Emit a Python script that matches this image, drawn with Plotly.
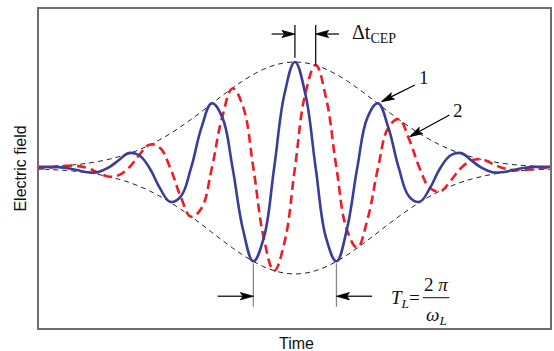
import math
import plotly.graph_objects as go

# Time axis in units of the optical period T_L (pulse centre at t = 0)
time = [-3.125, -3.0, -2.875, -2.75, -2.625, -2.5, -2.375, -2.25, -2.125,
        -2.0, -1.875, -1.75, -1.625, -1.5, -1.375, -1.25, -1.125,
        -1.0, -0.875, -0.75, -0.625, -0.5, -0.375, -0.25, -0.125,
        0.0, 0.125, 0.25, 0.375, 0.5, 0.625, 0.75, 0.875,
        1.0, 1.125, 1.25, 1.375, 1.5, 1.625, 1.75, 1.875,
        2.0, 2.125, 2.25, 2.375, 2.5, 2.625, 2.75, 2.875, 3.0, 3.125]

# Pulse 1: carrier maximum under the envelope peak
field_1 = [0.01, 0.01, 0.01, 0.0, -0.02, -0.04, -0.04, 0.0, 0.07,
           0.14, 0.12, 0.0, -0.19, -0.32, -0.27, 0.0, 0.38,
           0.61, 0.48, 0.0, -0.58, -0.88, -0.66, 0.0, 0.70,
           1.00, 0.70, 0.0, -0.66, -0.88, -0.58, 0.0, 0.48,
           0.61, 0.38, 0.0, -0.27, -0.32, -0.19, 0.0, 0.12,
           0.14, 0.07, 0.0, -0.04, -0.04, -0.02, 0.0, 0.01, 0.01, 0.01]

# Pulse 2: same envelope, carrier shifted by the carrier-envelope phase
field_2 = [-0.01, 0.0, 0.01, 0.02, 0.02, 0.0, -0.04, -0.08, -0.07,
           0.0, 0.12, 0.22, 0.19, 0.0, -0.27, -0.46, -0.38,
           0.0, 0.48, 0.75, 0.58, 0.0, -0.66, -0.97, -0.70,
           0.0, 0.70, 0.97, 0.66, 0.0, -0.58, -0.75, -0.48,
           0.0, 0.38, 0.46, 0.27, 0.0, -0.19, -0.22, -0.12,
           0.0, 0.07, 0.08, 0.04, 0.0, -0.02, -0.02, -0.01, 0.0, 0.01]

# Pulse envelope
envelope = [0.010, 0.013, 0.018, 0.024, 0.032, 0.044, 0.060, 0.080, 0.105,
            0.135, 0.172, 0.216, 0.267, 0.325, 0.389, 0.458, 0.531,
            0.607, 0.682, 0.755, 0.823, 0.882, 0.932, 0.969, 0.992,
            1.000, 0.992, 0.969, 0.932, 0.882, 0.823, 0.755, 0.682,
            0.607, 0.531, 0.458, 0.389, 0.325, 0.267, 0.216, 0.172,
            0.135, 0.105, 0.080, 0.060, 0.044, 0.032, 0.024, 0.018, 0.013, 0.010]

BLUE = "#3a3d9c"
RED = "#ee1d25"
SERIF = "Liberation Serif"
SANS = "Liberation Sans"
INK = "#111111"

W, H = 554, 351
MARGIN = dict(l=39, r=2, t=9, b=23)
X_RANGE = [-3.08, 3.07]
Y_RANGE = [-1.51, 1.50]
# pixels per data unit, used to keep arrowheads undistorted
PX_X = (W - MARGIN["l"] - MARGIN["r"]) / (X_RANGE[1] - X_RANGE[0])
PX_Y = (H - MARGIN["t"] - MARGIN["b"]) / (Y_RANGE[1] - Y_RANGE[0])

fig = go.Figure()

for sign in (1, -1):
    fig.add_trace(go.Scatter(
        x=time, y=[sign * e for e in envelope], mode="lines",
        line=dict(color="#222222", width=1, dash="5px,4px", shape="spline"),
        hoverinfo="skip", showlegend=False))

fig.add_trace(go.Scatter(
    x=time, y=field_2, mode="lines", name="2",
    line=dict(color=RED, width=2.6, dash="9px,5px", shape="spline", smoothing=1.15),
    showlegend=False))
fig.add_trace(go.Scatter(
    x=time, y=field_1, mode="lines", name="1",
    line=dict(color=BLUE, width=2.6, shape="spline", smoothing=1.15),
    showlegend=False))

# Marker lines for the CEP delay (top) and the optical period (bottom)
for xv, y0, y1, col in [(0.0, 1.04, 1.35, INK), (0.25, 0.97, 1.35, INK),
                        (-0.5, -0.90, -1.31, "#888888"), (0.5, -0.90, -1.31, "#888888")]:
    fig.add_shape(type="line", x0=xv, x1=xv, y0=y0, y1=y1,
                  line=dict(color=col, width=1.3))


def arrow(x, y, ax, ay, head_len=13.0, half_w=3.6):
    """Arrow from tail (ax, ay) to tip (x, y), slim filled head."""
    dxp = (x - ax) * PX_X
    dyp = -(y - ay) * PX_Y
    n = math.hypot(dxp, dyp)
    ux, uy = dxp / n, dyp / n

    def to_data(px, py):
        return x + px / PX_X, y - py / PX_Y

    bx, by = to_data(-head_len * ux, -head_len * uy)
    nx, ny = to_data(-0.8 * head_len * ux, -0.8 * head_len * uy)
    c1 = to_data(-head_len * ux - half_w * uy, -head_len * uy + half_w * ux)
    c2 = to_data(-head_len * ux + half_w * uy, -head_len * uy - half_w * ux)
    fig.add_shape(type="line", x0=ax, y0=ay, x1=nx, y1=ny,
                  line=dict(color="#000000", width=1.2))
    path = (f"M {x},{y} L {c1[0]},{c1[1]} L {nx},{ny} "
            f"L {c2[0]},{c2[1]} Z")
    fig.add_shape(type="path", path=path, fillcolor="#000000",
                  line=dict(color="#000000", width=0.8))


arrow(0.0, 1.264, -0.28, 1.264)
arrow(0.25, 1.264, 0.53, 1.264)
arrow(-0.5, -1.21, -0.93, -1.21)
arrow(0.5, -1.21, 0.93, -1.21)
arrow(1.04, 0.625, 1.443, 0.783)
arrow(1.38, 0.295, 1.86, 0.50)

fig.add_annotation(x=0.665, y=1.27, xref="x", yref="y", xanchor="left",
                   yanchor="middle", showarrow=False,
                   text="\u0394t<sub>CEP</sub>",
                   font=dict(family=SERIF, size=20, color=INK))
fig.add_annotation(x=1.55, y=0.85, xref="x", yref="y", showarrow=False,
                   xanchor="center", yanchor="middle",
                   text="1", font=dict(family=SERIF, size=19, color=INK))
fig.add_annotation(x=1.958, y=0.547, xref="x", yref="y", showarrow=False,
                   xanchor="center", yanchor="middle",
                   text="2", font=dict(family=SERIF, size=19, color=INK))

# T_L = 2π / ω_L
fig.add_annotation(x=1.529, y=-1.235, xref="x", yref="y", xanchor="right",
                   yanchor="middle", showarrow=False,
                   text="<i>T</i><sub><i>L</i></sub>=",
                   font=dict(family=SERIF, size=19, color=INK))
fig.add_annotation(x=1.697, y=-1.10, xref="x", yref="y", showarrow=False,
                   xanchor="center", yanchor="middle",
                   text="2 <i>\u03c0</i>",
                   font=dict(family=SERIF, size=19, color=INK))
fig.add_shape(type="line", x0=1.541, x1=1.858, y0=-1.224, y1=-1.224,
              line=dict(color=INK, width=1))
fig.add_annotation(x=1.709, y=-1.40, xref="x", yref="y", showarrow=False,
                   xanchor="center", yanchor="middle",
                   text="<i>\u03c9</i><sub><i>L</i></sub>",
                   font=dict(family=SERIF, size=19, color=INK))

# Axis titles
fig.add_annotation(x=-0.037, y=0.50, xref="paper", yref="paper",
                   xanchor="center", yanchor="middle",
                   showarrow=False, textangle=-90, text="Electric field",
                   font=dict(family=SANS, size=16, color=INK))
fig.add_annotation(x=0.503, y=-0.05, xref="paper", yref="paper",
                   xanchor="center", yanchor="middle",
                   showarrow=False, text="Time",
                   font=dict(family=SANS, size=16, color=INK))

axis_style = dict(showline=True, mirror=True, linecolor="#6e6e6e", linewidth=1.5,
                  showgrid=False, zeroline=False, ticks="", showticklabels=False)

fig.update_layout(
    width=W, height=H,
    margin=MARGIN,
    paper_bgcolor="white", plot_bgcolor="white",
    font=dict(family=SANS),
    xaxis=dict(range=X_RANGE, **axis_style),
    yaxis=dict(range=Y_RANGE, **axis_style),
)

fig.write_html("out.html")
